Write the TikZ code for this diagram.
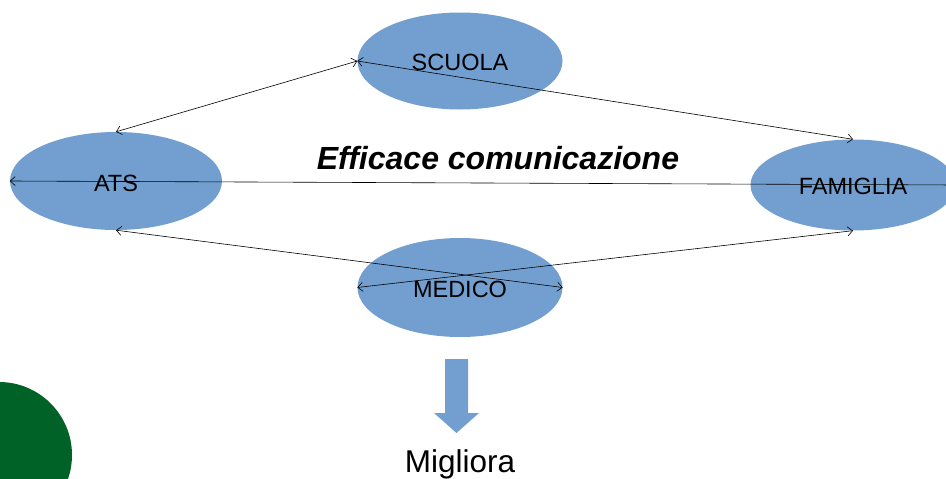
\documentclass[tikz,border=0pt]{standalone}
\usepackage{fontspec}
\setmainfont{Liberation Sans}
\usetikzlibrary{shapes.geometric,arrows.meta}
\definecolor{ovalblue}{RGB}{114,159,207}
\definecolor{darkgreen}{RGB}{0,98,38}
\tikzset{
  oval/.style={ellipse, fill=ovalblue, draw=none, inner sep=0pt,
    minimum width=205pt, minimum height=97pt},
  lbl/.style={font=\fontsize{23.5}{23.5}\selectfont},
  link/.style={draw=black, line width=0.6pt, {Straight Barb[length=5pt,width=9pt]}-{Straight Barb[length=5pt,width=9pt]}}
}
\begin{document}
\begin{tikzpicture}[x=1pt,y=-1pt]
\useasboundingbox (0,0) rectangle (946,479);
\fill[darkgreen] (-1,455) circle (73);
\node[oval] (scuola) at (460,61) {};
\node[oval, minimum width=212pt, minimum height=98pt] (ats) at (116,181) {};
\node[oval, minimum height=91pt] (famiglia) at (853,185) {};
\node[oval, minimum height=99pt] (medico) at (460,287.5) {};
\path[link] (scuola.west) -- (ats.north);
\path[link] (scuola.west) -- (famiglia.north);
\path[link] (ats.west) -- (famiglia.east);
\path[link] (ats.south) -- (medico.east);
\path[link] (medico.west) -- (famiglia.south);
\node[lbl] (tscuola) at (460,62) {SCUOLA};
\node[lbl] (tats) at (116,183) {ATS};
\node[lbl] (tfamiglia) at (853,186.5) {FAMIGLIA};
\node[lbl] (tmedico) at (460,289) {MEDICO};
\node[font=\fontsize{32}{32}\selectfont\bfseries\itshape] (title) at (498,158) {Efficace comunicazione};
\fill[ovalblue] (445,359) -- (468,359) -- (468,413) -- (479,413) -- (456.5,433) -- (434,413) -- (445,413) -- cycle;
\node[font=\fontsize{31.5}{31.5}\selectfont] (migliora) at (460,464) {Migliora};
\end{tikzpicture}
\end{document}
